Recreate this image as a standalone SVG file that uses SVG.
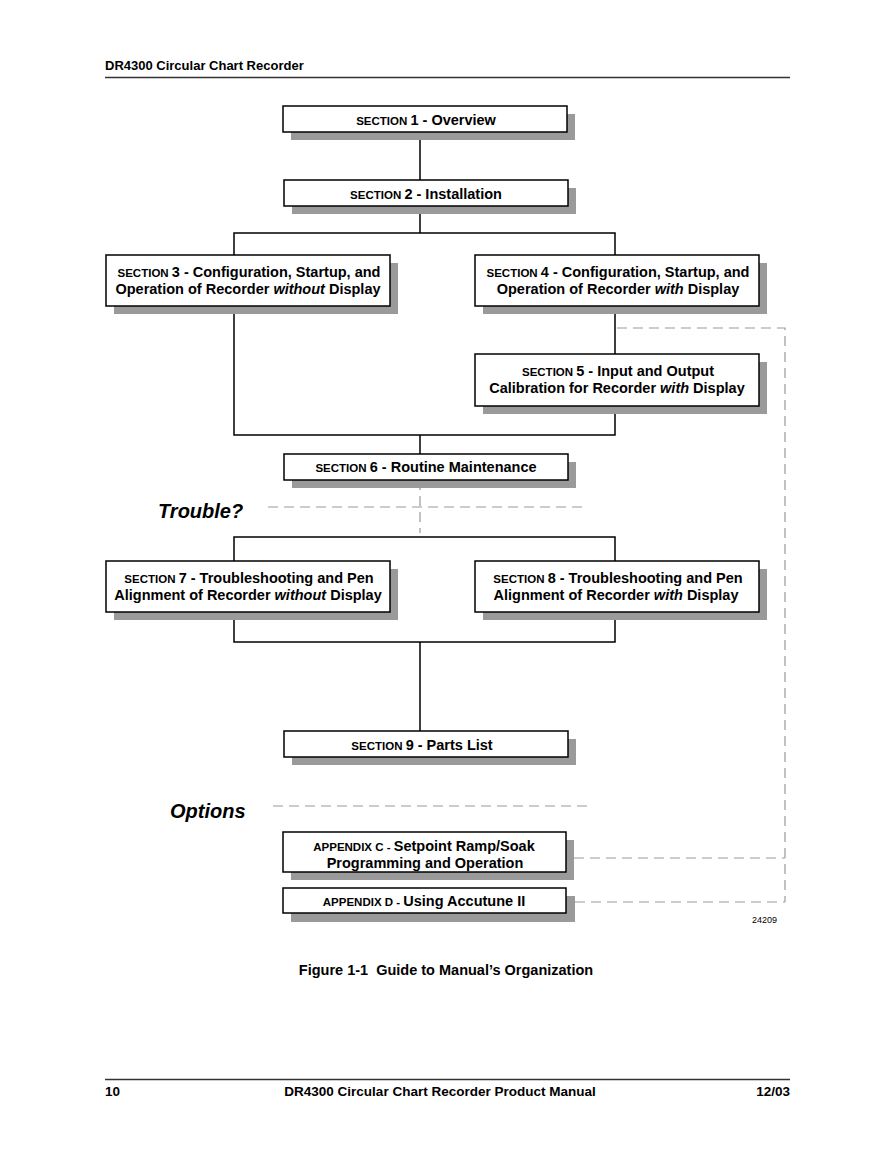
<svg xmlns="http://www.w3.org/2000/svg" width="892" height="1155" viewBox="0 0 892 1155">
<style>
text{font-family:"Liberation Sans",Arial,sans-serif;font-weight:bold;fill:#000}
.box{fill:#fff;stroke:#000;stroke-width:1.5}
.sh{fill:#9a9a9a}
.t{font-size:14.5px;text-anchor:middle}
.s{font-size:11.5px}
.i{font-style:italic}
.ln{stroke:#000;stroke-width:1.5;fill:none}
.dl{stroke:#999;stroke-width:1.2;fill:none;stroke-dasharray:10 6}
.hdr{font-size:13px}
.ftr{font-size:13.5px}
</style>
<rect width="892" height="1155" fill="#fff"/>
<text class="hdr" x="105" y="70">DR4300 Circular Chart Recorder</text>
<line x1="105" y1="77.5" x2="790" y2="77.5" stroke="#333" stroke-width="1.5"/>

<g id="connectors">
<path class="ln" d="M420 132V180M420 206V233M234 255V233H615V255M615 306V354M234 306V435H615V406M420 435V454"/>
<path class="ln" d="M234 561V537H615V561M234 612V642H615V612M420 642V731"/>
<path class="dl" d="M420 480V533M268 507H583M273 806H588"/>
<path class="dl" d="M617 328H785V902M574 858H785M575 902H785"/>
</g>

<g id="s1"><rect class="sh" x="291" y="114" width="284" height="26"/><rect class="box" x="283" y="106" width="284" height="26"/>
<text class="t" x="426" y="125"><tspan class="s">SECTION </tspan>1 - Overview</text></g>
<g id="s2"><rect class="sh" x="292" y="188" width="284" height="26"/><rect class="box" x="284" y="180" width="284" height="26"/>
<text class="t" x="426" y="199"><tspan class="s">SECTION </tspan>2 - Installation</text></g>
<g id="s3"><rect class="sh" x="114" y="263" width="284" height="51"/><rect class="box" x="106" y="255" width="284" height="51"/>
<text class="t" x="249" y="277"><tspan class="s">SECTION </tspan>3 - Configuration, Startup, and</text>
<text class="t" x="248" y="294">Operation of Recorder <tspan class="i">without</tspan> Display</text></g>
<g id="s4"><rect class="sh" x="483" y="263" width="284" height="51"/><rect class="box" x="475" y="255" width="284" height="51"/>
<text class="t" x="618" y="277"><tspan class="s">SECTION </tspan>4 - Configuration, Startup, and</text>
<text class="t" x="618" y="294">Operation of Recorder <tspan class="i">with</tspan> Display</text></g>
<g id="s5"><rect class="sh" x="483" y="362" width="284" height="52"/><rect class="box" x="475" y="354" width="284" height="52"/>
<text class="t" x="618" y="376"><tspan class="s">SECTION </tspan>5 - Input and Output</text>
<text class="t" x="617" y="393">Calibration for Recorder <tspan class="i">with</tspan> Display</text></g>
<g id="s6"><rect class="sh" x="292" y="462" width="284" height="26"/><rect class="box" x="284" y="454" width="284" height="26"/>
<text class="t" x="426" y="472"><tspan class="s">SECTION </tspan>6 - Routine Maintenance</text></g>
<text x="158" y="518" font-size="20" class="i">Trouble?</text>
<g id="s7"><rect class="sh" x="114" y="569" width="284" height="51"/><rect class="box" x="106" y="561" width="284" height="51"/>
<text class="t" x="249" y="583"><tspan class="s">SECTION </tspan>7 - Troubleshooting and Pen</text>
<text class="t" x="248" y="600">Alignment of Recorder <tspan class="i">without</tspan> Display</text></g>
<g id="s8"><rect class="sh" x="483" y="569" width="284" height="51"/><rect class="box" x="475" y="561" width="284" height="51"/>
<text class="t" x="618" y="583"><tspan class="s">SECTION </tspan>8 - Troubleshooting and Pen</text>
<text class="t" x="616" y="600">Alignment of Recorder <tspan class="i">with</tspan> Display</text></g>
<g id="s9"><rect class="sh" x="292" y="739" width="284" height="26"/><rect class="box" x="284" y="731" width="284" height="26"/>
<text class="t" x="422" y="750"><tspan class="s">SECTION </tspan>9 - Parts List</text></g>
<text x="170" y="818" font-size="20" class="i">Options</text>
<g id="apC"><rect class="sh" x="291" y="840" width="283" height="40"/><rect class="box" x="283" y="832" width="283" height="40"/>
<text class="t" x="424" y="851"><tspan class="s">APPENDIX C - </tspan>Setpoint Ramp/Soak</text>
<text class="t" x="425" y="868">Programming and Operation</text></g>
<g id="apD"><rect class="sh" x="291" y="896" width="284" height="26"/><rect class="box" x="283" y="888" width="283" height="25"/>
<text class="t" x="424" y="906"><tspan class="s">APPENDIX D - </tspan>Using Accutune II</text></g>
<text x="752" y="923" font-size="9" style="font-weight:normal">24209</text>
<text x="446" y="975" font-size="14.5" text-anchor="middle" xml:space="preserve">Figure 1-1  Guide to Manual’s Organization</text>
<line x1="105" y1="1079.5" x2="790" y2="1079.5" stroke="#333" stroke-width="1.5"/>
<text class="ftr" x="105" y="1096">10</text>
<text class="ftr" x="440" y="1096" text-anchor="middle">DR4300 Circular Chart Recorder Product Manual</text>
<text class="ftr" x="790" y="1096" text-anchor="end">12/03</text>
</svg>
